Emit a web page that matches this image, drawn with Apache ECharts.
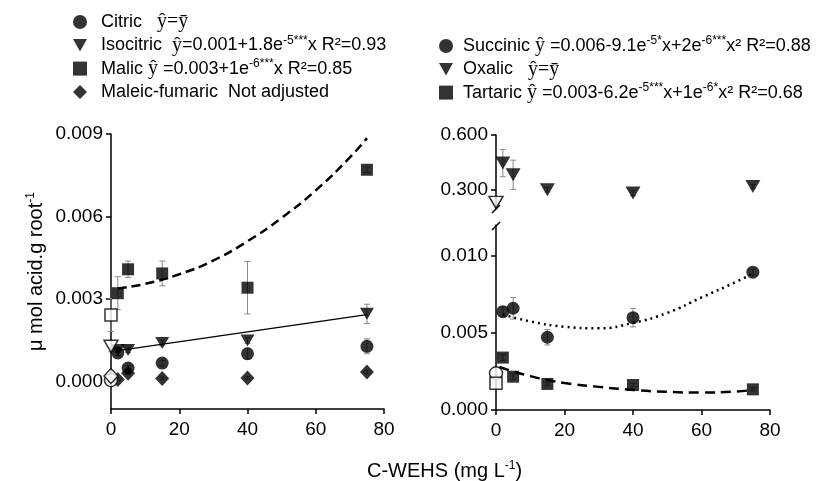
<!DOCTYPE html>
<html><head><meta charset="utf-8">
<script src="https://cdn.jsdelivr.net/npm/echarts@6/dist/echarts.min.js"></script>
<style>html,body{margin:0;padding:0;background:#fff}#c{width:834px;height:481px}</style>
</head><body><div id="c"></div>
<script>
// ---- data ----
const doseX = [2, 5, 15, 40, 75];
const ctrlX = [0];
const xTicks = [0, 20, 40, 60, 80];
const leftTicks = [0, 0.003, 0.006, 0.009];
const rightUpperTicks = [0.3, 0.6];
const rightLowerTicks = [0, 0.005, 0.010];

const citric = [0.00104, 0.00049, 0.00067, 0.00101, 0.00128];
const citricErr = [0.0001, 0.0001, 0.0001, 0.0002, 0.00027];
const isocitric = [0.00115, 0.00115, 0.00140, 0.00149, 0.00246];
const isocitricErr = [0.0001, 0.0001, 0.0001, 0.0001, 0.00035];
const malic = [0.00321, 0.00408, 0.00393, 0.00341, 0.00770];
const malicErr = [0.0006, 0.0003, 0.00045, 0.00095, 0.0001];
const maleicFumaric = [0.00007, 0.00030, 0.00011, 0.00013, 0.00035];
const maleicErr = [0.00005, 0.00005, 0.00005, 0.00005, 0.00005];

const citricCtrl = [0.00005];
const isocitricCtrl = [0.00128];
const isocitricCtrlErr = [0.0002];
const malicCtrl = [0.00242];
const malicCtrlErr = [0.0006];
const maleicCtrl = [0.0002];

const succinic = [0.00638, 0.0066, 0.00472, 0.00599, 0.00894];
const succinicErr = [0.0003, 0.0007, 0.0005, 0.0006, 0.0002];
const tartaric = [0.0034, 0.00216, 0.00169, 0.00162, 0.00134];
const tartaricErr = [0.0002, 0.0002, 0.0001, 0.0001, 0.0001];
const oxalic = [0.446, 0.382, 0.300, 0.282, 0.318];
const oxalicErr = [0.075, 0.08, 0.012, 0.015, 0.01];
const succinicCtrl = [0.00238];
const tartaricCtrl = [0.00173];
const oxalicCtrl = [0.231];

const malicFitX = [2, 10, 20, 30, 40, 50, 60, 70, 75];
const malicFitY = [0.00338, 0.00355, 0.0039, 0.0044, 0.0051, 0.00595, 0.00695, 0.00815, 0.00885];
const isoFitX = [2, 75];
const isoFitY = [0.00112, 0.00243];
const succFitX = [2, 10, 20, 30, 40, 50, 60, 70, 75];
const succFitY = [0.0062, 0.00575, 0.0054, 0.0053, 0.00565, 0.0063, 0.0073, 0.0083, 0.00885];
const tartFitX = [1, 5, 10, 15, 20, 30, 40, 50, 60, 70, 75];
const tartFitY = [0.0028, 0.0025, 0.0022, 0.00195, 0.00175, 0.0015, 0.0013, 0.00118, 0.00113, 0.0012, 0.0013];

// ---- styling helpers ----
const FONT = 'Liberation Sans, Arial, sans-serif';
const DOWN_TRI = 'path://M0,0L10,0L5,9Z';
const pairs = (xs, ys) => xs.map((x, i) => [x, ys[i]]);

function sc(name, xs, ys, symbol, size, xi, open, z) {
  return {
    type: 'scatter', name, data: pairs(xs, ys), symbol, symbolSize: size,
    xAxisIndex: xi, yAxisIndex: xi, z: z || 3, clip: false,
    itemStyle: open ? {color: '#fff', borderColor: '#000', borderWidth: 1.5} : {color: '#000'},
    emphasis: {disabled: true}
  };
}
function err(xs, ys, es, xi) {
  return {
    type: 'custom', xAxisIndex: xi, yAxisIndex: xi, z: 1, silent: true, clip: false,
    data: xs.map((x, i) => [x, ys[i] - es[i], ys[i] + es[i]]),
    renderItem: (params, api) => {
      const lo = api.coord([api.value(0), api.value(1)]);
      const hi = api.coord([api.value(0), api.value(2)]);
      const c = 3, st = {stroke: '#8a8a8a', lineWidth: 1};
      return {type: 'group', children: [
        {type: 'line', shape: {x1: lo[0], y1: lo[1], x2: hi[0], y2: hi[1]}, style: st},
        {type: 'line', shape: {x1: hi[0] - c, y1: hi[1], x2: hi[0] + c, y2: hi[1]}, style: st},
        {type: 'line', shape: {x1: lo[0] - c, y1: lo[1], x2: lo[0] + c, y2: lo[1]}, style: st}
      ]};
    }
  };
}
function fit(xs, ys, xi, type, width, smooth) {
  return {
    type: 'line', data: pairs(xs, ys), xAxisIndex: xi, yAxisIndex: xi, z: 2,
    showSymbol: false, smooth: smooth, silent: true,
    lineStyle: {color: '#000', width: width, type: type}
  };
}

const axisLineSt = {show: true, onZero: false, lineStyle: {color: '#000', width: 1.5}};
const tickSt = {show: true, length: 5, lineStyle: {color: '#000', width: 1.5}};
const lblSt = {color: '#000', fontSize: 19, fontFamily: FONT};

function xAx(gi) {
  return {gridIndex: gi, type: 'value', min: 0, max: 80, interval: 20,
    axisLine: axisLineSt, axisTick: tickSt, splitLine: {show: false},
    axisLabel: Object.assign({margin: 11}, lblSt)};
}
function yAx(gi, min, max, ticks) {
  return {gridIndex: gi, type: 'value', min, max,
    axisLine: axisLineSt, splitLine: {show: false},
    axisTick: Object.assign({customValues: ticks}, tickSt),
    axisLabel: Object.assign({customValues: ticks, margin: 8, formatter: v => v.toFixed(3)}, lblSt)};
}

const supSt = {fontSize: 12, verticalAlign: 'top', lineHeight: 12, fontFamily: FONT, color: '#000'};
const richSt = {
  g1: {width: 9}, g2: {width: 5},
  sup: supSt,
  yh: {fontFamily: 'Liberation Serif, serif', fontSize: 20, color: '#000'},
  ser: {fontFamily: 'Liberation Serif, serif', fontSize: 20, color: '#000'}
};
const legendText = {
  'Citric': 'Citric   {ser|ŷ=ȳ}',
  'Isocitric': 'Isocitric  {yh|ŷ}=0.001+1.8e{sup|-5***}x R²=0.93',
  'Malic': 'Malic {yh|ŷ} =0.003+1e{sup|-6***}x R²=0.85',
  'Maleic-fumaric': 'Maleic-fumaric  Not adjusted',
  'Succinic': 'Succinic {yh|ŷ} =0.006-9.1e{sup|-5*}x+2e{sup|-6***}x² R²=0.88',
  'Oxalic': 'Oxalic   {ser|ŷ=ȳ}',
  'Tartaric': 'Tartaric {yh|ŷ} =0.003-6.2e{sup|-5***}x+1e{sup|-6*}x² R²=0.68'
};
function legend(names, left, top, gap) {
  return {data: names, orient: 'vertical', left, top, itemGap: 1.3, itemWidth: 14, itemHeight: 14,
    selectedMode: false,
    formatter: n => '{' + gap + '| }' + legendText[n],
    textStyle: {fontSize: 18, lineHeight: 22, color: '#000', fontFamily: FONT, rich: richSt}};
}

const chart = echarts.init(document.getElementById('c'), null, {renderer: 'canvas'});
chart.setOption({
  animation: false,
  backgroundColor: '#fff',
  textStyle: {fontFamily: FONT},
  title: {
    text: 'C-WEHS (mg L{sup|-1})', left: 362, top: 455,
    textStyle: {fontSize: 20, fontWeight: 'normal', color: '#000', fontFamily: FONT, lineHeight: 22,
      rich: {sup: supSt}}
  },
  legend: [
    legend(['Citric', 'Isocitric', 'Malic', 'Maleic-fumaric'], 68, 6, 'g1'),
    legend(['Succinic', 'Oxalic', 'Tartaric'], 434, 30, 'g2')
  ],
  grid: [
    {left: 111, top: 134, width: 273, height: 275},
    {left: 496, top: 135, width: 274, height: 73},
    {left: 496, top: 225, width: 274, height: 185}
  ],
  xAxis: [xAx(0), {gridIndex: 1, type: 'value', min: 0, max: 80, show: false}, xAx(2)],
  yAxis: [
    Object.assign(yAx(0, -0.001, 0.009, leftTicks), {
      name: 'μ mol acid.g root{sup|-1}', nameLocation: 'middle', nameGap: 64, nameRotate: 90,
      nameTextStyle: {fontSize: 20, color: '#000', fontFamily: FONT, lineHeight: 22, rich: {sup: supSt}}
    }),
    yAx(1, 0.2, 0.6, rightUpperTicks),
    yAx(2, 0, 0.012, rightLowerTicks)
  ],
  graphic: [
    {type: 'line', shape: {x1: 492, y1: 213, x2: 500, y2: 205}, style: {stroke: '#000', lineWidth: 1.5}},
    {type: 'line', shape: {x1: 492, y1: 230, x2: 500, y2: 222}, style: {stroke: '#000', lineWidth: 1.5}}
  ],
  series: [
    // left panel
    err(doseX, malic, malicErr, 0),
    err(doseX, isocitric, isocitricErr, 0),
    err(doseX, citric, citricErr, 0),
    err(doseX, maleicFumaric, maleicErr, 0),
    err(ctrlX, malicCtrl, malicCtrlErr, 0),
    err(ctrlX, isocitricCtrl, isocitricCtrlErr, 0),
    fit(malicFitX, malicFitY, 0, [9, 5], 2.5, true),
    fit(isoFitX, isoFitY, 0, 'solid', 1.3, false),
    sc('Citric', doseX, citric, 'circle', 13, 0, false),
    sc('Isocitric', doseX, isocitric, DOWN_TRI, [14, 12], 0, false),
    sc('Malic', doseX, malic, 'rect', 12, 0, false),
    sc('Maleic-fumaric', doseX, maleicFumaric, 'diamond', [14, 15], 0, false),
    sc('Citric control', ctrlX, citricCtrl, 'circle', 13, 0, true, 4),
    sc('Maleic control', ctrlX, maleicCtrl, 'diamond', [14, 15], 0, true, 5),
    sc('Isocitric control', ctrlX, isocitricCtrl, DOWN_TRI, [14, 12], 0, true, 4),
    sc('Malic control', ctrlX, malicCtrl, 'rect', 12, 0, true, 4),
    // right upper
    err(doseX, oxalic, oxalicErr, 1),
    sc('Oxalic', doseX, oxalic, DOWN_TRI, [15, 13], 1, false),
    sc('Oxalic control', ctrlX, oxalicCtrl, DOWN_TRI, [14, 12], 1, true, 4),
    // right lower
    err(doseX, succinic, succinicErr, 2),
    err(doseX, tartaric, tartaricErr, 2),
    fit(succFitX, succFitY, 2, [2, 4], 2.5, true),
    fit(tartFitX, tartFitY, 2, [10, 6], 2.5, true),
    sc('Succinic', doseX, succinic, 'circle', 13, 2, false),
    sc('Tartaric', doseX, tartaric, 'rect', 12, 2, false),
    sc('Succinic control', ctrlX, succinicCtrl, 'circle', 13, 2, true, 4),
    sc('Tartaric control', ctrlX, tartaricCtrl, 'rect', 12, 2, true, 5)
  ]
});
</script>
</body></html>
